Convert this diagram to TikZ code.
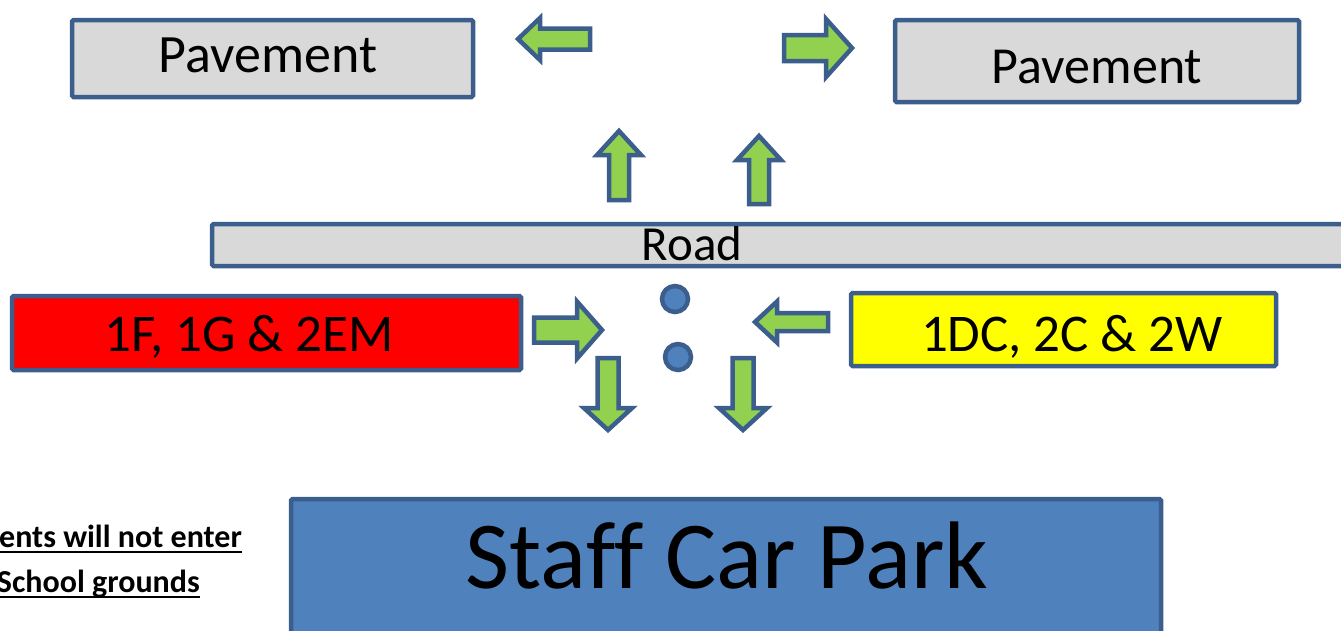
\documentclass[tikz,border=0pt]{standalone}
\usepackage{fontspec}
\setmainfont[Ligatures=NoCommon]{Carlito}
\definecolor{edgeblue}{HTML}{3B5E8C}
\definecolor{parkblue}{HTML}{4F81BD}
\definecolor{paveg}{HTML}{D9D9D9}
\definecolor{arrowgreen}{HTML}{92D050}
\definecolor{classred}{HTML}{FF0000}
\definecolor{classyellow}{HTML}{FFFF00}
\begin{document}
\begin{tikzpicture}
[x=1pt,y=-1pt,
  boxdecorate/.style={draw=edgeblue,line width=4.5pt,rounded corners=1.5pt,
    inner sep=0pt},%
  dotdecorate/.style={circle,draw=edgeblue,fill=parkblue,line width=4.5pt,
    minimum size=26pt,inner sep=0pt},%
  arrowdecorate/.style={draw=edgeblue,fill=arrowgreen,line width=4.5pt,
    line join=miter},%
  textdecorate/.style={inner sep=0pt,anchor=base,text=black},%
  underdecorate/.style={line width=2.5pt}]
\useasboundingbox (0,0) rectangle (1341,630);
%% boxes: pavements, road, class areas, car park
\foreach \boxname/\boxfill/\x/\y/\w/\h in {pavl/paveg/272.5/58.5/401/77,
  pavr/paveg/1097/61/404/82, road/paveg/812/245/1200/42,
  redarea/classred/266.5/333/509/74, yellowarea/classyellow/1063.5/329.5/425/73,
  carpark/parkblue/726/599/870/200} {
  \node (\boxname) at (\x,\y) [boxdecorate,fill=\boxfill,
    minimum width=\w,minimum height=\h] {};
}
%% two dots in the middle of the crossing
\node (dota) at (675,299) [dotdecorate] {};
\node (dotb) at (678,357) [dotdecorate] {};
%% block arrows: tip x/tip y/direction/length/head length/head width/shaft width
\foreach \tx/\ty/\dir/\len/\hl/\hw/\sw in {518/39/180/72/22/42/21,
  852/48/0/68/26/58/26, 619/131/90/69/24/44/20, 759/136/90/68/24/44/20,
  602/330/0/68/25/57/25, 755/322/180/73/22/41/18,
  608/430/270/72/22/48/21, 743/430/270/72/22/48/21} {
  \draw[arrowdecorate,shift={(\tx,\ty)},rotate=\dir]
    (0,0) -- (-\hl,\hw/2) -- (-\hl,\sw/2) -- (-\len,\sw/2)
    -- (-\len,-\sw/2) -- (-\hl,-\sw/2) -- (-\hl,-\hw/2) -- cycle;
}
%% labels
\foreach \txtname/\txt/\size/\x/\y in {pavltext/Pavement/54/268/72,
  pavrtext/Pavement/52/1097/83, roadtext/Road/49/692/260,
  redtext/{1F, 1G \& 2EM}/53/249/351, yellowtext/{1DC, 2C \& 2W}/53/1072/351,
  parktext/Staff Car Park/96/727/588} {
  \node (\txtname) at (\x,\y) [textdecorate]
    {\fontsize{\size}{\size}\selectfont \txt};
}
\node (notea) at (242,547) [textdecorate,anchor=base east]
  {\fontsize{32}{32}\selectfont\bfseries ents will not enter};
\node (noteb) at (200,592) [textdecorate,anchor=base east]
  {\fontsize{32}{32}\selectfont\bfseries School grounds};
\draw[underdecorate] ([yshift=-5pt]notea.base west) -- ([yshift=-5pt]notea.base east);
\draw[underdecorate] ([yshift=-5pt]noteb.base west) -- ([yshift=-5pt]noteb.base east);
\end{tikzpicture}
\end{document}
